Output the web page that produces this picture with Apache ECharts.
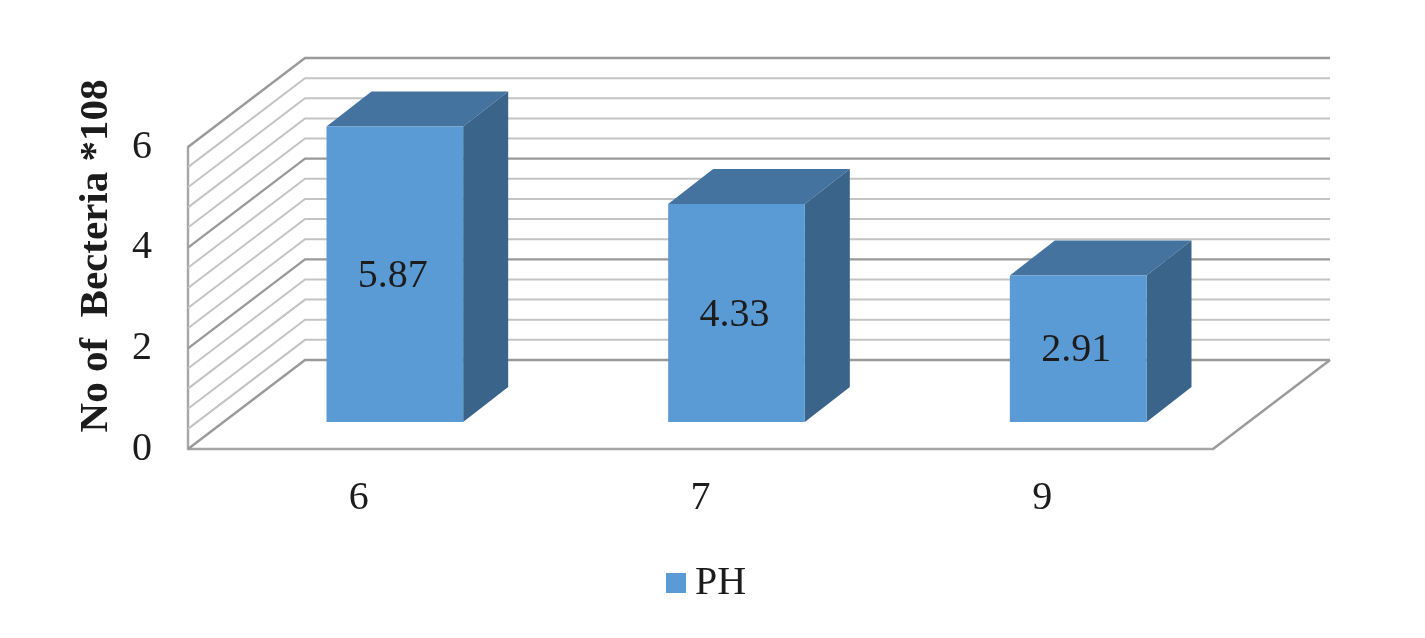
<!DOCTYPE html>
<html><head><meta charset="utf-8">
<style>html,body{margin:0;padding:0;background:#fff}#c{width:1425px;height:638px}</style>
<script src="https://cdn.jsdelivr.net/npm/echarts@6/dist/echarts.min.js"></script>
</head><body><div id="c"></div>
<script>
const categories = ['6','7','9'];
const phValues = [5.87,4.33,2.91];
const minorLevels = [0.4,0.8,1.2,1.6,2.4,2.8,3.2,3.6,4.4,4.8,5.2,5.6];
const majorLevels = [0,2,4,6];
const WALL = {dx:117, dy:-89};
const BAR_OFFSET = {dx:36, dy:-27};
const BAR_DEPTH = {dx:45, dy:-35};
const SERIF = '"Liberation Serif","Times New Roman",serif';
const TEXT = '#1c1c1c';

function wallItem(color, width){
  return function(params, api){
    const cs = params.coordSys;
    const y = api.coord([0, api.value(1)])[1];
    const pts = [[cs.x,y],[cs.x+WALL.dx,y+WALL.dy],[cs.x+cs.width+WALL.dx,y+WALL.dy]];
    const children = [{type:'polyline',shape:{points:pts},style:{fill:'none',stroke:color,lineWidth:width,lineJoin:'miter'}}];
    if (api.value(1)===0){
      children.push({type:'line',shape:{x1:cs.x+cs.width,y1:y,x2:cs.x+cs.width+WALL.dx,y2:y+WALL.dy},style:{stroke:color,lineWidth:width}});
    }
    return {type:'group',children};
  };
}
function barItem(params, api){
  const base = api.coord([api.value(0),0]);
  const top = api.coord([api.value(0),api.value(1)]);
  const w = api.size([1,0])[0]*0.4;
  const x0 = base[0]-w/2+BAR_OFFSET.dx, x1 = x0+w;
  const yb = base[1]+BAR_OFFSET.dy, yt = top[1]+BAR_OFFSET.dy;
  const d = BAR_DEPTH;
  return {type:'group',children:[
    {type:'polygon',shape:{points:[[x0,yt],[x1,yt],[x1+d.dx,yt+d.dy],[x0+d.dx,yt+d.dy]]},style:{fill:'#44739F'}},
    {type:'polygon',shape:{points:[[x1,yt],[x1+d.dx,yt+d.dy],[x1+d.dx,yb+d.dy],[x1,yb]]},style:{fill:'#3A648A'}},
    {type:'rect',shape:{x:x0,y:yt,width:w,height:yb-yt},style:{fill:'#5B9BD5'}},
    {type:'text',style:{x:(x0+x1)/2-2,y:(yt+yb)/2+2,text:api.value(1).toFixed(2),align:'center',verticalAlign:'middle',font:'40px '+SERIF,fill:TEXT}}
  ]};
}
const chart = echarts.init(document.getElementById('c'),null,{renderer:'canvas'});
chart.setOption({
  animation:false,
  backgroundColor:'#fff',
  grid:{left:188,right:212,top:147,bottom:189,containLabel:false},
  legend:{data:[{name:'PH',icon:'rect'}],left:661,top:558,itemWidth:20,itemHeight:20,
    textStyle:{fontFamily:SERIF,fontSize:40,color:TEXT,padding:[2,0,0,4]}},
  xAxis:{type:'category',data:categories,
    axisLine:{show:true,lineStyle:{color:'#a6a6a6',width:2.4}},axisTick:{show:false},
    axisLabel:{margin:29,fontFamily:SERIF,fontSize:40,color:TEXT}},
  yAxis:{type:'value',min:0,max:6,interval:2,
    name:'No of  Becteria *108',nameLocation:'middle',nameGap:71,
    nameTextStyle:{fontFamily:SERIF,fontSize:41,fontWeight:'bold',color:TEXT,padding:[0,0,0,84]},
    axisLine:{show:true,lineStyle:{color:'#a6a6a6',width:2.4}},axisTick:{show:false},splitLine:{show:false},
    axisLabel:{margin:36,fontFamily:SERIF,fontSize:40,color:TEXT}},
  series:[
    {type:'custom',name:'minor',z:1,silent:true,encode:{x:0,y:1},renderItem:wallItem('#c4c4c4',2),data:minorLevels.map(v=>[0,v])},
    {type:'custom',name:'major',z:2,silent:true,encode:{x:0,y:1},renderItem:wallItem('#9a9a9a',2.4),data:majorLevels.map(v=>[0,v])},
    {type:'custom',name:'PH',z:3,itemStyle:{color:'#5B9BD5'},encode:{x:0,y:1},renderItem:barItem,data:phValues.map((v,i)=>[i,v])}
  ]
});
</script></body></html>
